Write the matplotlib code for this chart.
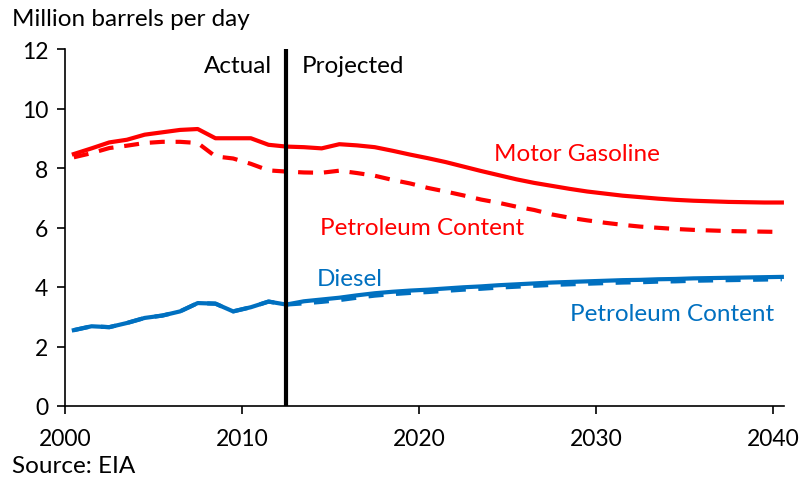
import matplotlib.pyplot as plt
import numpy as np

# data, annual 2000-2040
years = np.arange(2000, 2041)

motor_gasoline = [8.47, 8.66, 8.86, 8.95, 9.12, 9.20, 9.28, 9.31, 9.00, 9.00,
                  9.00, 8.78, 8.72, 8.70, 8.66, 8.80, 8.76, 8.70, 8.58, 8.45,
                  8.33, 8.20, 8.05, 7.90, 7.76, 7.62, 7.50, 7.40, 7.30, 7.21,
                  7.14, 7.07, 7.02, 6.97, 6.93, 6.90, 6.88, 6.86, 6.85, 6.84,
                  6.84]
gasoline_petroleum = [8.36, 8.50, 8.67, 8.75, 8.84, 8.88, 8.88, 8.84, 8.39, 8.32,
                      8.14, 7.92, 7.88, 7.85, 7.84, 7.91, 7.83, 7.74, 7.60, 7.48,
                      7.33, 7.21, 7.08, 6.94, 6.83, 6.70, 6.59, 6.44, 6.33, 6.24,
                      6.16, 6.09, 6.03, 5.99, 5.95, 5.92, 5.90, 5.88, 5.87, 5.86,
                      5.85]
diesel = [2.55, 2.68, 2.65, 2.79, 2.96, 3.04, 3.18, 3.46, 3.44, 3.18,
          3.32, 3.51, 3.41, 3.52, 3.58, 3.64, 3.72, 3.79, 3.84, 3.88,
          3.91, 3.95, 3.99, 4.02, 4.06, 4.09, 4.12, 4.15, 4.17, 4.19,
          4.21, 4.23, 4.24, 4.26, 4.27, 4.29, 4.30, 4.31, 4.32, 4.33,
          4.34]
diesel_petroleum = [2.55, 2.68, 2.65, 2.79, 2.96, 3.04, 3.18, 3.46, 3.44, 3.18,
                    3.32, 3.51, 3.41, 3.45, 3.50, 3.56, 3.64, 3.71, 3.76, 3.80,
                    3.83, 3.87, 3.91, 3.94, 3.98, 4.01, 4.04, 4.07, 4.09, 4.11,
                    4.13, 4.15, 4.16, 4.18, 4.19, 4.21, 4.22, 4.23, 4.24, 4.25,
                    4.26]

RED = "#FF0000"
BLUE = "#0070C0"
FONT = "Lato"
LABEL_SIZE = 17.5

plt.rcParams["font.family"] = [FONT, "DejaVu Sans"]

fig = plt.figure(figsize=(8.09, 4.81), dpi=100)
ax = fig.add_axes([65 / 809, 1 - 407 / 481, (784 - 65) / 809, (407 - 50) / 481])

# Excel-style category axis: points sit in the middle of each year slot
x = years + 0.5

ax.plot(x, gasoline_petroleum, color=RED, lw=3, dashes=(3.6, 2.6), zorder=3)
ax.plot(x, motor_gasoline, color=RED, lw=3, zorder=3)
ax.plot(x, diesel_petroleum, color=BLUE, lw=3, dashes=(3.6, 3.0), zorder=3)
ax.plot(x, diesel, color=BLUE, lw=3, zorder=3)

ax.axvline(2012.5, color="black", lw=3, zorder=4)

ax.set_xlim(2000, 2000 + (784 - 65) / 17.7)
ax.set_ylim(0, 12)
ax.set_xticks([2000, 2010, 2020, 2030, 2040])
ax.set_yticks(range(0, 13, 2))

for side in ["top", "right"]:
    ax.spines[side].set_visible(False)
for side in ["left", "bottom"]:
    ax.spines[side].set_linewidth(1.2)
ax.tick_params(axis="both", direction="out", length=6, width=1.2,
               labelsize=16.5, pad=6)
ax.tick_params(axis="x", pad=10)

ax.text(2011.7, 11.45, "Actual", ha="right", va="center", fontsize=LABEL_SIZE)
ax.text(2013.4, 11.45, "Projected", ha="left", va="center", fontsize=LABEL_SIZE)

ax.text(2028.9, 8.5, "Motor Gasoline", color=RED, ha="center", va="center", fontsize=LABEL_SIZE)
ax.text(2020.2, 6.0, "Petroleum Content", color=RED, ha="center", va="center", fontsize=LABEL_SIZE)
ax.text(2016.1, 4.3, "Diesel", color=BLUE, ha="center", va="center", fontsize=LABEL_SIZE)
ax.text(2034.3, 3.1, "Petroleum Content", color=BLUE, ha="center", va="center", fontsize=LABEL_SIZE)

fig.text(12 / 809, 1 - 20 / 481, "Million barrels per day", ha="left", va="center", fontsize=LABEL_SIZE)
fig.text(12 / 809, 1 - 467 / 481, "Source: EIA", ha="left", va="center", fontsize=LABEL_SIZE)

fig.savefig("out.png", dpi=100)
